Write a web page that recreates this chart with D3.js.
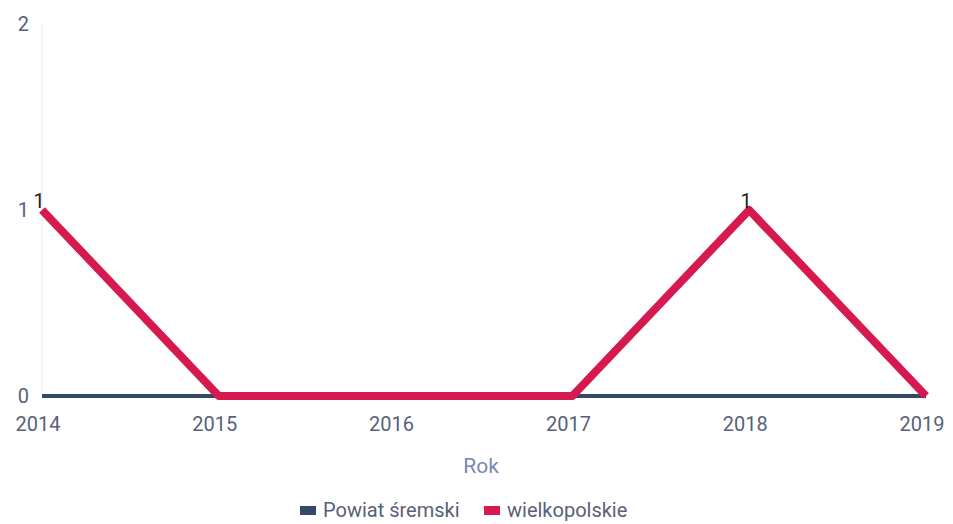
<!DOCTYPE html>
<html>
<head>
<meta charset="utf-8">
<script src="https://cdn.jsdelivr.net/npm/d3@7"></script>
<style>
  body { margin: 0; background: #fff; }
  svg { font-family: Roboto, sans-serif; }
</style>
</head>
<body>
<div class="chart"></div>
<script>
var years = [2014, 2015, 2016, 2017, 2018, 2019]
var yTicks = [0, 1, 2]
var powiat = [0, 0, 0, 0, 0, 0]
var wielkopolskie = [1, 0, 0, 0, 1, 0]
var seriesNames = ['Powiat śremski', 'wielkopolskie']
var colors = ['#34496a', '#d61a50']

var width = 953
var height = 524
var margin = {top: 24, right: 27, bottom: 128, left: 42}

var svg = d3.select('.chart')
  .append('svg')
  .attr('width', width)
  .attr('height', height)

var x = d3.scalePoint()
  .domain(years)
  .range([margin.left, width - margin.right])

var y = d3.scaleLinear()
  .domain([0, 2])
  .range([height - margin.bottom, margin.top])

// y axis line
svg.append('line')
  .attr('x1', margin.left).attr('x2', margin.left)
  .attr('y1', y(2)).attr('y2', y(0))
  .attr('stroke', '#e3e8f4')
  .attr('stroke-width', 1)

svg.selectAll('.ytick')
  .data(yTicks)
  .enter()
  .append('text')
  .attr('class', 'ytick')
  .attr('x', 29)
  .attr('y', function(d) { return y(d) + 7 })
  .attr('text-anchor', 'end')
  .attr('fill', '#596079')
  .style('font-size', '20px')
  .text(function(d) { return d })

svg.selectAll('.xtick')
  .data(years)
  .enter()
  .append('text')
  .attr('class', 'xtick')
  .attr('x', function(d) { return x(d) - 4 })
  .attr('y', y(0) + 35)
  .attr('text-anchor', 'middle')
  .attr('fill', '#596079')
  .style('font-size', '20px')
  .text(function(d) { return d })

svg.append('text')
  .attr('x', 481)
  .attr('y', 473)
  .attr('text-anchor', 'middle')
  .attr('fill', '#7a86b8')
  .style('font-size', '21px')
  .text('Rok')

var line = d3.line()
  .x(function(d, i) { return x(years[i]) })
  .y(function(d) { return y(d) })

svg.append('path')
  .datum(powiat)
  .attr('d', line)
  .attr('fill', 'none')
  .attr('stroke', colors[0])
  .attr('stroke-width', 4)

svg.append('path')
  .datum(wielkopolskie)
  .attr('d', line)
  .attr('fill', 'none')
  .attr('stroke', colors[1])
  .attr('stroke-width', 8)
  .attr('stroke-linejoin', 'round')

// value labels for non-zero points
svg.selectAll('.vlabel')
  .data(wielkopolskie.map(function(v, i) { return {v: v, year: years[i]} })
    .filter(function(d) { return d.v > 0 }))
  .enter()
  .append('text')
  .attr('class', 'vlabel')
  .attr('x', function(d) { return x(d.year) - 3 })
  .attr('y', function(d) { return y(d.v) - 2 })
  .attr('text-anchor', 'middle')
  .attr('fill', '#222')
  .style('font-size', '20px')
  .text(function(d) { return d.v })

// legend
var legend = svg.append('g')
var lx = [300, 484]
seriesNames.forEach(function(name, i) {
  legend.append('rect')
    .attr('x', lx[i])
    .attr('y', 506)
    .attr('width', 16)
    .attr('height', 9)
    .attr('fill', colors[i])
  legend.append('text')
    .attr('x', lx[i] + 23)
    .attr('y', 517)
    .attr('fill', '#596079')
    .style('font-size', '20px')
    .text(name)
})
</script>
</body>
</html>
